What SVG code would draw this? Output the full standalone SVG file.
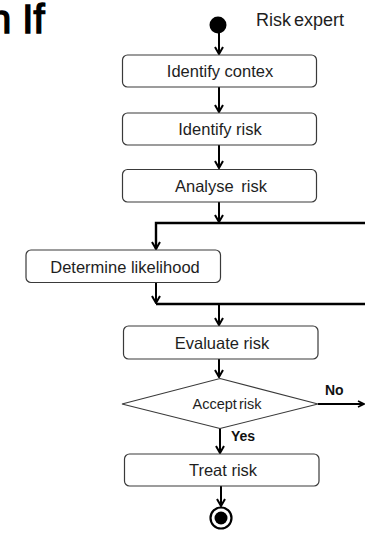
<svg xmlns="http://www.w3.org/2000/svg" width="365" height="533" viewBox="0 0 365 533">
  <defs>
    <style>
      .box { fill: #ffffff; stroke: #3a3a3a; stroke-width: 1.2; }
      .lbl { font-family: "Liberation Sans", Arial, sans-serif; font-size: 16.5px; fill: #1e1e1e; text-anchor: middle; }
      .guard { font-family: "Liberation Sans", Arial, sans-serif; font-size: 14px; font-weight: bold; fill: #111; }
      .flow { fill: none; stroke: #000; stroke-width: 2; }
      .bar { fill: none; stroke: #000; stroke-width: 2.4; }
    </style>
    <!-- open chevron arrowhead, drawn along +x so it follows the line direction -->
    <marker id="arrow" viewBox="0 0 9 10" refX="8" refY="5" markerWidth="9" markerHeight="10" markerUnits="userSpaceOnUse" orient="auto">
      <path d="M1,1 L8,5 L1,9" fill="none" stroke="#000" stroke-width="2"/>
    </marker>
    <marker id="arrowS" viewBox="0 0 8 8" refX="7" refY="4" markerWidth="8" markerHeight="8" markerUnits="userSpaceOnUse" orient="auto">
      <path d="M1,1 L7,4 L1,7" fill="none" stroke="#000" stroke-width="1.6"/>
    </marker>
  </defs>

  <!-- clipped heading fragment -->
  <text x="-11" y="33" font-family="Liberation Sans, Arial, sans-serif" font-size="40" fill="#000" stroke="#000" stroke-width="1.5">n If</text>

  <!-- swimlane title -->
  <text x="256" y="26" font-family="Liberation Sans, Arial, sans-serif" font-size="18" fill="#1e1e1e" word-spacing="-2">Risk expert</text>

  <!-- connectors -->
  <g id="connectors">
    <line class="flow" x1="219" y1="33" x2="219" y2="54" marker-end="url(#arrow)"/>
    <line class="flow" x1="219" y1="87" x2="219" y2="112" marker-end="url(#arrow)"/>
    <line class="flow" x1="219" y1="145" x2="219" y2="168" marker-end="url(#arrow)"/>
    <line class="flow" x1="219" y1="202" x2="219" y2="222" marker-end="url(#arrow)"/>
    <polyline class="bar" points="365,223 156,223 156,249" marker-end="url(#arrow)"/>
    <line class="flow" x1="156" y1="283" x2="156" y2="303" marker-end="url(#arrow)"/>
    <line class="bar" x1="156" y1="304" x2="365" y2="304"/>
    <line class="flow" x1="219" y1="305" x2="219" y2="325" marker-end="url(#arrow)"/>
    <line class="flow" x1="219" y1="359" x2="219" y2="377" marker-end="url(#arrow)"/>
    <line class="flow" x1="318" y1="404" x2="364" y2="404" marker-end="url(#arrowS)"/>
    <line class="flow" x1="220" y1="428" x2="220" y2="453" marker-end="url(#arrow)"/>
    <line class="flow" x1="221" y1="486" x2="221" y2="506" marker-end="url(#arrow)"/>
    <text class="guard" x="325" y="395">No</text>
    <text class="guard" x="231" y="441">Yes</text>
  </g>

  <g id="start">
    <circle cx="218" cy="25" r="8.5" fill="#000"/>
  </g>

  <g id="identify-context">
    <rect class="box" x="122.5" y="55" width="194" height="32" rx="5"/>
    <text class="lbl" x="220" y="77">Identify contex</text>
  </g>

  <g id="identify-risk">
    <rect class="box" x="122.5" y="113" width="194" height="32" rx="5"/>
    <text class="lbl" x="220" y="135">Identify risk</text>
  </g>

  <g id="analyse-risk">
    <rect class="box" x="122.5" y="169.5" width="194" height="32.5" rx="5"/>
    <text class="lbl" x="221" y="192" word-spacing="3">Analyse risk</text>
  </g>

  <g id="determine-likelihood">
    <rect class="box" x="26" y="250" width="194.5" height="32.5" rx="5"/>
    <text class="lbl" x="125" y="272.5">Determine likelihood</text>
  </g>

  <g id="evaluate-risk">
    <rect class="box" x="123.5" y="326" width="194.5" height="33" rx="5"/>
    <text class="lbl" x="222" y="349">Evaluate risk</text>
  </g>

  <g id="accept-risk">
    <polygon class="box" points="220,378.5 318,404 220,428.5 122,404"/>
    <text x="227" y="409" font-family="Liberation Sans, Arial, sans-serif" font-size="14.5" fill="#1e1e1e" text-anchor="middle" word-spacing="-2">Accept risk</text>
  </g>

  <g id="treat-risk">
    <rect class="box" x="124.5" y="454" width="194.5" height="32" rx="5"/>
    <text class="lbl" x="223" y="476">Treat risk</text>
  </g>

  <g id="end">
    <circle cx="221" cy="518" r="10.5" fill="#fff" stroke="#000" stroke-width="2.2"/>
    <circle cx="221" cy="518" r="6.5" fill="#000"/>
  </g>
</svg>
